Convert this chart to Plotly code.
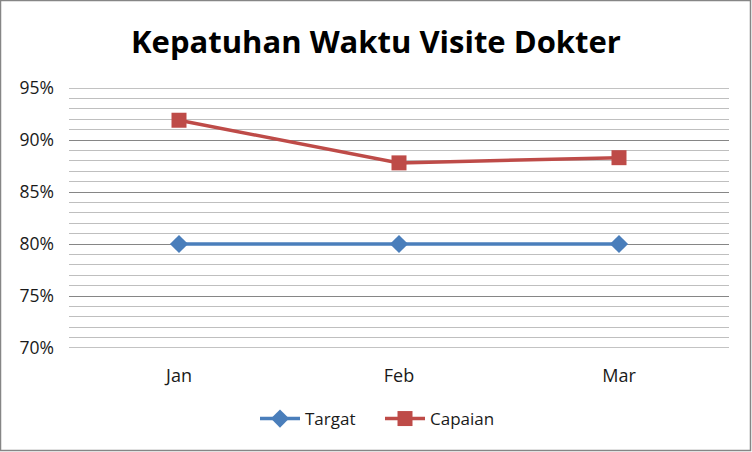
import plotly.graph_objects as go

months = ["Jan", "Feb", "Mar"]
target = [0.80, 0.80, 0.80]
capaian = [0.919, 0.878, 0.883]
series_names = ["Targat", "Capaian"]
y_edges = [0.70, 0.95]

W, H = 752, 452
ml, mr, mt, mb = 69, 23, 88, 104
pw, ph = W - ml - mr, H - mt - mb

fig = go.Figure()
fig.add_trace(go.Scatter(
    x=months, y=target, name=series_names[0], mode="lines+markers",
    line=dict(color="#4A7EBB", width=3.5),
    marker=dict(symbol="diamond", size=14, color="#4A7EBB"),
))
fig.add_trace(go.Scatter(
    x=months, y=capaian, name=series_names[1], mode="lines+markers",
    line=dict(color="#BE4B48", width=3.5),
    marker=dict(symbol="square", size=15, color="#BE4B48"),
))

shapes = [dict(type="rect", xref="paper", yref="paper",
               x0=-(ml - 0.5) / pw, x1=1 + (mr - 1.5) / pw,
               y0=-(mb - 1.5) / ph, y1=1 + (mt - 0.5) / ph,
               line=dict(color="#868686", width=1.5), layer="below")]
for yv in y_edges:
    shapes.append(dict(type="line", xref="paper", yref="y", x0=0, x1=1, y0=yv, y1=yv,
                       line=dict(color="#868686", width=1), layer="below"))

fig.update_layout(
    width=W, height=H,
    margin=dict(l=ml, r=mr, t=mt, b=mb),
    paper_bgcolor="white", plot_bgcolor="white",
    font=dict(family="Open Sans, Liberation Sans, sans-serif", size=17, color="#1a1a1a"),
    title=dict(text="<b>Kepatuhan Waktu Visite Dokter</b>", x=0.5, xanchor="center",
               y=1 - 42 / H, yanchor="middle",
               font=dict(size=31, color="black", family="Open Sans, sans-serif")),
    showlegend=True,
    legend=dict(orientation="h", x=(380 - ml) / pw, xanchor="center", y=-(419 - 348) / ph,
                yanchor="middle",
                font=dict(size=17), itemwidth=40, entrywidth=70, entrywidthmode="pixels",
                traceorder="normal"),
    xaxis=dict(range=[-0.5, 2.5], showgrid=False, zeroline=False, showline=False,
               ticks="", ticklabelstandoff=15, tickfont=dict(size=18)),
    yaxis=dict(range=[0.70, 0.95], dtick=0.05, tick0=0.70, tickformat=".0%",
               showgrid=True, gridcolor="#868686", gridwidth=1,
               zeroline=False, showline=False, ticks="", ticklabelstandoff=14,
               tickfont=dict(size=17.5),
               minor=dict(dtick=0.01, tick0=0.70, showgrid=True, gridcolor="#BFBFBF", gridwidth=1)),
    shapes=shapes,
)

fig.write_html("out.html")
